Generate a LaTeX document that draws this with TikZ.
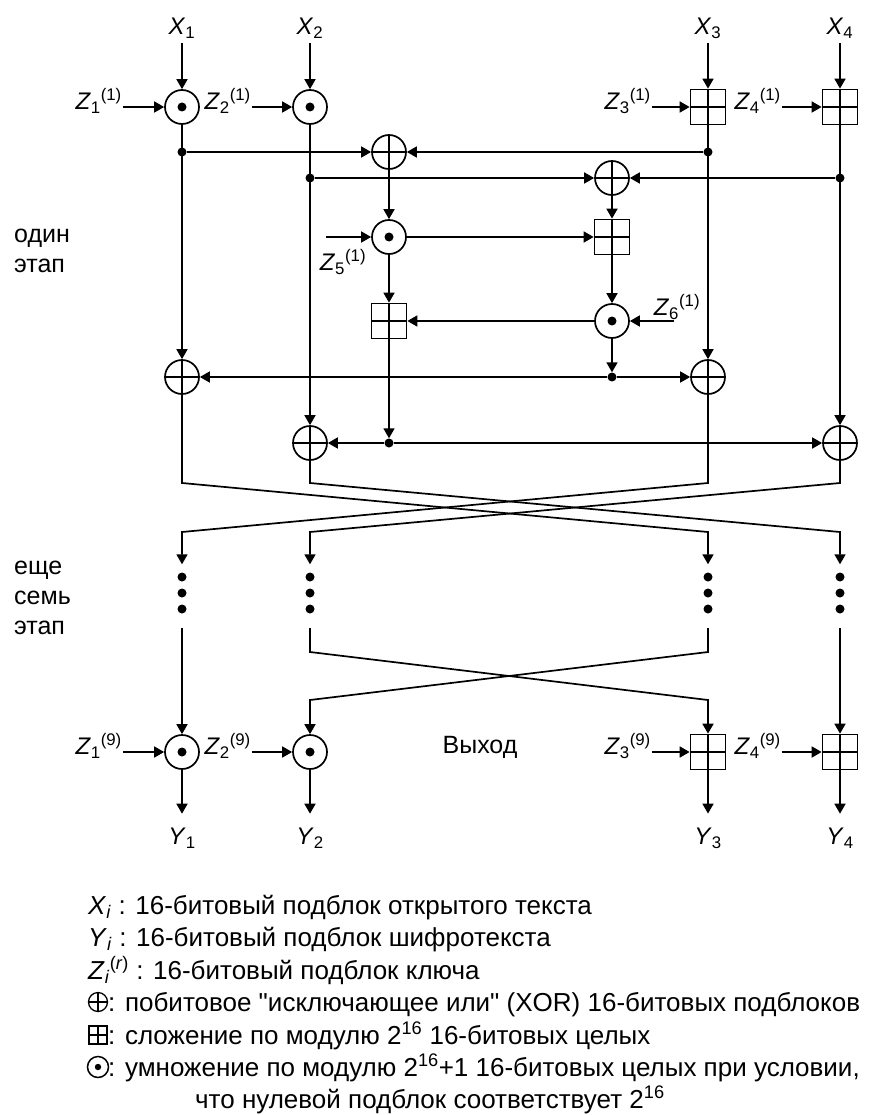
\documentclass[tikz,border=0pt]{standalone}
\usepackage{fontspec}
\setmainfont{Liberation Sans}
\newfontfamily\legfont{Liberation Sans}
\usetikzlibrary{arrows.meta}
\newcommand\ZZ[2]{\textit{Z}\textsubscript{#1}\textsuperscript{(#2)}}
\tikzset{
  ln/.style={line width=1.7pt},
  arr/.style={ln, -{Triangle[length=10pt,width=11pt]}},
  crossp/.style={path picture={\draw[line width=#1]
      (path picture bounding box.north) -- (path picture bounding box.south)
      (path picture bounding box.west) -- (path picture bounding box.east);}},
  odot/.style={circle, draw, line width=1.7pt, minimum size=34pt, inner sep=0pt,
      path picture={\fill (path picture bounding box.center) circle (4.5pt);}},
  oxor/.style={circle, draw, line width=1.7pt, minimum size=34pt, inner sep=0pt, crossp=1.7pt},
  oadd/.style={rectangle, draw, line width=1.7pt, minimum size=35pt, inner sep=0pt, crossp=1.7pt},
  jdot/.style={circle, fill, inner sep=0pt, minimum size=9pt},
  lbl/.style={font=\fontsize{24}{28}\selectfont, inner sep=1pt},
  side/.style={font=\fontsize{25}{30}\selectfont, inner sep=0pt, anchor=base west},
  leg/.style={font=\legfont\fontsize{26}{30}\selectfont, inner sep=0pt, anchor=base west},
  lxor/.style={circle, draw, line width=1.3pt, minimum size=19pt, inner sep=0pt, crossp=1.3pt},
  ladd/.style={rectangle, draw, line width=1.3pt, minimum size=18pt, inner sep=0pt, crossp=1.3pt},
  ldot/.style={circle, draw, line width=1.5pt, minimum size=21pt, inner sep=0pt,
      path picture={\fill (path picture bounding box.center) circle (3.2pt);}},
}
\begin{document}
\begin{tikzpicture}[x=1pt,y=-1pt]
\useasboundingbox (0,0) rectangle (895,1115);
\fill[white] (0,0) rectangle (895,1115);

% ---------- first round: inputs ----------
\node[lbl] (x1) at (182,28) {\textit{X}\textsubscript{1}};
\node[lbl] (x2) at (310,28) {\textit{X}\textsubscript{2}};
\node[lbl] (x3) at (708,28) {\textit{X}\textsubscript{3}};
\node[lbl] (x4) at (840,28) {\textit{X}\textsubscript{4}};

\node[odot] (m1) at (182,107) {};
\node[odot] (m2) at (310,107) {};
\node[oadd] (a3) at (708,107) {};
\node[oadd] (a4) at (840,107) {};

\draw[arr, shorten <=4pt] (x1) -- (m1);
\draw[arr, shorten <=4pt] (x2) -- (m2);
\draw[arr, shorten <=4pt] (x3) -- (a3);
\draw[arr, shorten <=4pt] (x4) -- (a4);

\node[lbl, anchor=east] (z1) at (123,101) {\ZZ{1}{1}};
\node[lbl, anchor=east] (z2) at (252,101) {\ZZ{2}{1}};
\node[lbl, anchor=east] (z3) at (652,101) {\ZZ{3}{1}};
\node[lbl, anchor=east] (z4) at (782,101) {\ZZ{4}{1}};
\draw[arr] (z1.east |- m1) -- (m1);
\draw[arr] (z2.east |- m2) -- (m2);
\draw[arr] (z3.east |- a3) -- (a3);
\draw[arr] (z4.east |- a4) -- (a4);

% ---------- MA structure ----------
\node[oxor] (o1) at (389,152) {};
\node[oxor] (o2) at (612,178) {};
\node[odot] (m5) at (389,237) {};
\node[oadd] (a6) at (612,237) {};
\node[oadd] (a7) at (389,321) {};
\node[odot] (m8) at (612,321) {};
\node[oxor] (o9) at (182,377) {};
\node[oxor] (o10) at (708,377) {};
\node[oxor] (o11) at (310,443) {};
\node[oxor] (o12) at (840,443) {};

\draw[arr] (m1) -- (o9);
\draw[arr] (m2) -- (o11);
\draw[arr] (a3) -- (o10);
\draw[arr] (a4) -- (o12);

\node[jdot] (d1) at (182,152) {};
\node[jdot] (d2) at (708,152) {};
\node[jdot] (d3) at (310,178) {};
\node[jdot] (d4) at (840,178) {};
\node[jdot] (d5) at (612,377) {};
\node[jdot] (d6) at (389,443) {};

\draw[arr] (d1) -- (o1);
\draw[arr] (d2) -- (o1);
\draw[arr] (d3) -- (o2);
\draw[arr] (d4) -- (o2);
\draw[arr] (o1) -- (m5);
\draw[arr] (o2) -- (a6);
\draw[arr] (m5) -- (a6);
\draw[arr] (m5) -- (a7);
\draw[arr] (a6) -- (m8);
\draw[arr] (m8) -- (a7);
\draw[arr] (m8) -- (d5);
\draw[arr] (d5) -- (o9);
\draw[arr] (d5) -- (o10);
\draw[arr] (a7) -- (d6);
\draw[arr] (d6) -- (o11);
\draw[arr] (d6) -- (o12);

\coordinate (z5s) at (326,237);
\coordinate (z6s) at (674,321);
\draw[arr] (z5s) -- (m5);
\draw[arr] (z6s) -- (m8);
\node[lbl] (z5) at (343,262) {\ZZ{5}{1}};
\node[lbl] (z6) at (677,307) {\ZZ{6}{1}};

% ---------- dots (seven more rounds) ----------
\foreach \c/\n in {182/1,310/2,708/3,840/4}{
  \node[jdot] (v\n a) at (\c,577) {};
  \node[jdot] (v\n b) at (\c,593) {};
  \node[jdot] (v\n c) at (\c,609) {};
}

% ---------- swap after round 1 ----------
\draw[arr, shorten >=8pt] (o9)  -- (182,483) -- (708,532) -- (v3a);
\draw[arr, shorten >=8pt] (o11) -- (310,483) -- (840,532) -- (v4a);
\draw[arr, shorten >=8pt] (o10) -- (708,483) -- (182,532) -- (v1a);
\draw[arr, shorten >=8pt] (o12) -- (840,483) -- (310,532) -- (v2a);

% ---------- output transformation ----------
\node[odot] (mb1) at (182,752) {};
\node[odot] (mb2) at (310,752) {};
\node[oadd] (ab3) at (708,752) {};
\node[oadd] (ab4) at (840,752) {};

\coordinate (s1) at (182,628);
\coordinate (s2) at (310,628);
\coordinate (s3) at (708,628);
\coordinate (s4) at (840,628);
\draw[arr] (s1) -- (mb1);
\draw[arr] (s2) -- (310,652) -- (708,700) -- (ab3);
\draw[arr] (s3) -- (708,652) -- (310,700) -- (mb2);
\draw[arr] (s4) -- (ab4);

\node[lbl, anchor=east] (zb1) at (123,746) {\ZZ{1}{9}};
\node[lbl, anchor=east] (zb2) at (252,746) {\ZZ{2}{9}};
\node[lbl, anchor=east] (zb3) at (652,746) {\ZZ{3}{9}};
\node[lbl, anchor=east] (zb4) at (782,746) {\ZZ{4}{9}};
\draw[arr] (zb1.east |- mb1) -- (mb1);
\draw[arr] (zb2.east |- mb2) -- (mb2);
\draw[arr] (zb3.east |- ab3) -- (ab3);
\draw[arr] (zb4.east |- ab4) -- (ab4);

\node[lbl] (y1) at (182,838) {\textit{Y}\textsubscript{1}};
\node[lbl] (y2) at (310,838) {\textit{Y}\textsubscript{2}};
\node[lbl] (y3) at (708,838) {\textit{Y}\textsubscript{3}};
\node[lbl] (y4) at (840,838) {\textit{Y}\textsubscript{4}};
\draw[arr, shorten >=13pt] (mb1) -- (y1);
\draw[arr, shorten >=13pt] (mb2) -- (y2);
\draw[arr, shorten >=13pt] (ab3) -- (y3);
\draw[arr, shorten >=13pt] (ab4) -- (y4);

\node[lbl, font=\fontsize{25}{30}\selectfont] (out) at (480,747) {Выход};

% ---------- side texts ----------
\node[side] (t1) at (14,242) {один};
\node[side] (t2) at (14,272) {этап};
\node[side] (t3) at (14,574) {еще};
\node[side] (t4) at (14,604) {семь};
\node[side] (t5) at (14,634) {этап};

% ---------- legend ----------
\node[leg] (l1) at (88,914) {\textit{X}\textsubscript{\textit{i}} : 16-битовый подблок открытого текста};
\node[leg] (l2) at (88,946) {\textit{Y}\textsubscript{\textit{i}} : 16-битовый подблок шифротекста};
\node[leg] (l3) at (88,979) {\textit{Z}\textsubscript{\textit{i}}\textsuperscript{(\textit{r})} : 16-битовый подблок ключа};
\node[lxor] (sx) at (98,1002) {};
\node[ladd] (sa) at (98,1035) {};
\node[ldot] (sm) at (98,1067) {};
\node[leg] (l4) at (108,1011) {: побитовое "исключающее или" (XOR) 16-битовых подблоков};
\node[leg] (l5) at (108,1044) {: сложение по модулю 2\textsuperscript{16} 16-битовых целых};
\node[leg] (l6) at (108,1076) {: умножение по модулю 2\textsuperscript{16}+1 16-битовых целых при условии,};
\node[leg] (l7) at (195,1108) {что нулевой подблок соответствует 2\textsuperscript{16}};
\end{tikzpicture}
\end{document}
